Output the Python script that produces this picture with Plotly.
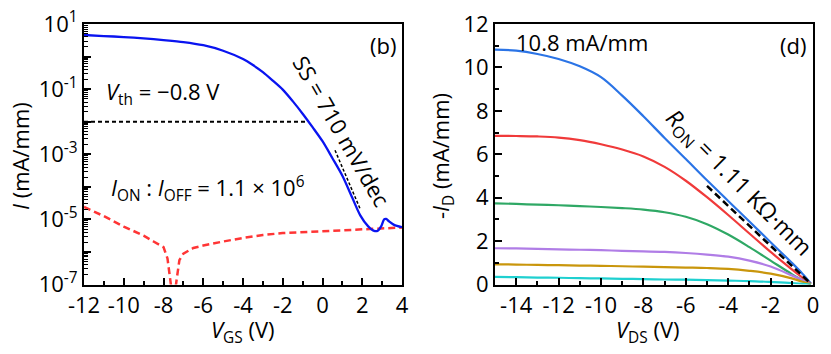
import plotly.graph_objects as go

# ---------------- Panel (b): transfer curve ----------------
vgs_on = [-12, -11, -10, -9, -8, -7, -6, -5, -4, -3.5, -3, -2.5, -2, -1.5, -1, -0.5, 0,
          0.5, 1, 1.5, 1.9, 2.3, 2.6, 2.8, 2.95, 3.1, 3.2, 3.35, 3.6, 4]
i_on = [4.59, 4.27, 3.98, 3.63, 3.22, 2.79, 2.23, 1.508, 0.838, 0.548, 0.3336, 0.1826,
        0.0965, 0.0428, 0.01762, 6.78e-3, 2.51e-3, 7.53e-4, 2.18e-4, 4.59e-5, 1.33e-5,
        6.09e-6, 4.43e-6, 4.59e-6, 6.09e-6, 1.0e-5, 1.036e-5, 8.68e-6, 6.77e-6, 5.80e-6]

vgs_gate = [-12, -11, -10, -9, -8.5, -8, -7.8, -7.65, -7.5, -7.35, -7.2, -7, -6.5, -6, -5.5,
            -5, -4, -3, -2, -1, 0, 1, 2, 3, 4]
i_gate = [2.4e-5, 1.26e-5, 6.03e-6, 3.16e-6, 2.09e-6, 1.41e-6, 6.31e-7, 1.58e-7, 2.5e-8,
          1.26e-7, 5.62e-7, 8.91e-7, 1.32e-6, 1.58e-6, 1.78e-6, 2.09e-6, 2.69e-6, 3.31e-6,
          3.8e-6, 4.07e-6, 4.37e-6, 4.57e-6, 4.9e-6, 5.25e-6, 5.62e-6]

vth_x = [-12, -0.7]
vth_y = [1e-2, 1e-2]
ss_x = [0.63, 1.89]
ss_y = [1.32e-3, 2.14e-5]

vgs_ticks = [-12, -10, -8, -6, -4, -2, 0, 2, 4]
vgs_ticktext = ["-12", "-10", "-8", "-6", "-4", "-2", "0", "2", "4"]
log_tickvals = [1e-7, 1e-6, 1e-5, 1e-4, 1e-3, 1e-2, 1e-1, 1e0, 1e1]
log_ticktext = ["10<sup>-7</sup>", "", "10<sup>-5</sup>", "", "10<sup>-3</sup>", "",
                "10<sup>-1</sup>", "", "10<sup>1</sup>"]

# ---------------- Panel (d): output curves ----------------
vds = [-15, -14, -13, -12, -11, -10, -9, -8, -7, -6, -5, -4, -3, -2, -1, -0.5, -0.1]
id_1 = [10.82, 10.77, 10.62, 10.39, 10.05, 9.55, 8.7, 7.75, 6.75, 5.78, 4.8, 3.85, 2.9, 1.95, 1.0, 0.5, 0.05]
id_2 = [6.85, 6.84, 6.82, 6.77, 6.65, 6.46, 6.22, 5.9, 5.42, 4.78, 4.02, 3.2, 2.35, 1.5, 0.7, 0.32, 0.03]
id_3 = [3.74, 3.71, 3.68, 3.65, 3.61, 3.57, 3.52, 3.45, 3.33, 3.12, 2.78, 2.3, 1.72, 1.1, 0.48, 0.2, 0.02]
id_4 = [1.67, 1.66, 1.64, 1.62, 1.6, 1.58, 1.55, 1.53, 1.5, 1.45, 1.38, 1.28, 1.1, 0.83, 0.42, 0.2, 0.01]
id_5 = [0.93, 0.92, 0.9, 0.89, 0.87, 0.86, 0.84, 0.82, 0.8, 0.78, 0.76, 0.72, 0.63, 0.5, 0.28, 0.13, 0.01]
id_6 = [0.35, 0.34, 0.32, 0.31, 0.29, 0.28, 0.26, 0.25, 0.23, 0.22, 0.2, 0.18, 0.16, 0.12, 0.07, 0.03, 0.0]
curves = [id_1, id_2, id_3, id_4, id_5, id_6]
curve_colors = ["#2b74e6", "#f03a3a", "#2fa865", "#b07de6", "#c9960c", "#1fd0d0"]

vds_ticks = [-14, -12, -10, -8, -6, -4, -2, 0]
vds_ticktext = ["-14", "-12", "-10", "-8", "-6", "-4", "-2", "0"]

ron_x = [-5.0, -0.15]
ron_y = [4.54, 0.08]

FONT = "Open Sans"
FS = 22
W, H = 831, 354

fig = go.Figure()

fig.add_trace(go.Scatter(x=vth_x, y=vth_y, mode="lines",
                         line=dict(color="black", width=2, dash="4px,3px"),
                         xaxis="x", yaxis="y", showlegend=False))
fig.add_trace(go.Scatter(x=vgs_gate, y=i_gate, mode="lines",
                         line=dict(color="#ff3535", width=2.5, dash="7px,4px"),
                         xaxis="x", yaxis="y", showlegend=False))
fig.add_trace(go.Scatter(x=vgs_on, y=i_on, mode="lines", line_shape="spline",
                         line=dict(color="#0a14f0", width=2.3, smoothing=0.8),
                         xaxis="x", yaxis="y", showlegend=False))
fig.add_trace(go.Scatter(x=ss_x, y=ss_y, mode="lines",
                         line=dict(color="black", width=1.5, dash="3px,2px"),
                         xaxis="x", yaxis="y", showlegend=False))

for ys, c in zip(curves, curve_colors):
    fig.add_trace(go.Scatter(x=vds, y=ys, mode="lines", line_shape="spline",
                             line=dict(color=c, width=2.2, smoothing=1.0),
                             xaxis="x2", yaxis="y2", showlegend=False))
fig.add_trace(go.Scatter(x=ron_x, y=ron_y, mode="lines",
                         line=dict(color="black", width=2.5, dash="7px,4px"),
                         xaxis="x2", yaxis="y2", showlegend=False))

axis_common = dict(showline=True, linecolor="black", linewidth=2, mirror=True,
                   ticks="inside", ticklen=7, tickwidth=1.5, tickcolor="black",
                   showgrid=False, zeroline=False,
                   tickfont=dict(family=FONT, size=FS, color="black"),
                   automargin=False)

yb, yt = 1 - 284.5 / H, 1 - 24 / H

fig.update_layout(
    width=W, height=H,
    margin=dict(l=0, r=0, t=0, b=0),
    paper_bgcolor="white", plot_bgcolor="white",
    font=dict(family=FONT, size=FS, color="black"),
    xaxis=dict(domain=[84 / W, 402 / W], range=[-12, 4], tickvals=vgs_ticks, ticktext=vgs_ticktext,
               minor=dict(ticks="inside", ticklen=4, dtick=1, tickcolor="black", tickwidth=1.5),
               anchor="y", **axis_common),
    yaxis=dict(domain=[yb, yt], type="log", range=[-7, 1], tickvals=log_tickvals, ticktext=log_ticktext,
               minor=dict(ticks="inside", ticklen=4, dtick="D1", tickcolor="black", tickwidth=1),
               anchor="x", **axis_common),
    xaxis2=dict(domain=[495 / W, 813 / W], range=[-15, 0], tickvals=vds_ticks, ticktext=vds_ticktext,
                minor=dict(ticks="inside", ticklen=4, dtick=1, tickcolor="black", tickwidth=1.5),
                anchor="y2", **axis_common),
    yaxis2=dict(domain=[yb, yt], range=[0, 12], tickvals=[0, 2, 4, 6, 8, 10, 12],
                minor=dict(ticks="inside", ticklen=4, dtick=1, tickcolor="black", tickwidth=1.5),
                anchor="x2", **axis_common),
)

def ann(text, x, y, xanchor="center", yanchor="middle", angle=0, size=FS):
    fig.add_annotation(text=text, x=x / W, y=1 - y / H, xref="paper", yref="paper",
                       xanchor=xanchor, yanchor=yanchor, textangle=angle, showarrow=False,
                       font=dict(family=FONT, size=size, color="black"))

# axis titles
ann("<i>V</i><sub>GS</sub> (V)", 243, 331)
ann("<i>I</i> (mA/mm)", 20, 156, angle=-90)
ann("<i>V</i><sub>DS</sub> (V)", 648, 331)
ann("-<i>I</i><sub>D</sub> (mA/mm)", 442, 156, angle=-90)

# panel texts
ann("<i>V</i><sub>th</sub> = −0.8 V", 104, 93, xanchor="left")
ann("<i>I</i><sub>ON</sub> : <i>I</i><sub>OFF</sub> = 1.1 × 10<sup>6</sup>", 109, 188, xanchor="left")
ann("(b)", 398, 45, xanchor="right")
ann("SS = 710 mV/dec", 342, 131, angle=60)
ann("10.8 mA/mm", 514, 42, xanchor="left")
ann("(d)", 808, 45, xanchor="right")
ann("<i>R</i><sub>ON</sub> = 1.11 KΩ·mm", 738, 183, angle=45, size=23)

fig.write_html("out.html")
